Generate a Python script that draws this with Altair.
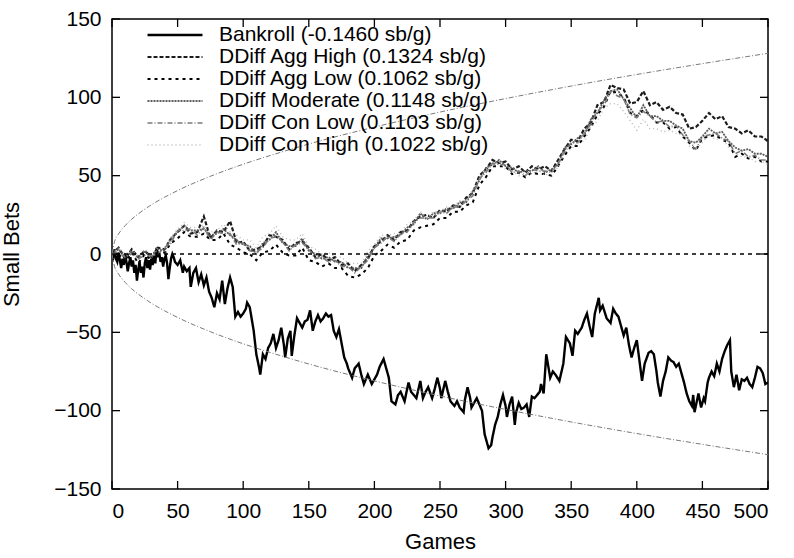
import altair as alt
import pandas as pd

# ---- Bankroll trace (games, small bets) ----
BANKROLL_GAMES = [
    0, 1, 2, 3, 4, 5, 6, 7, 8, 9, 10, 11, 12, 13, 14, 15, 16, 17, 18, 19,
    20, 21, 22, 23, 24, 25, 26, 27, 28, 29, 30, 31, 32, 33, 34, 35, 36, 37, 38, 39,
    40, 41, 42, 43, 44, 45, 46, 47, 48, 50, 52, 54, 55, 57, 59, 60, 62, 64, 66, 68,
    70, 72, 74, 76, 78, 80, 82, 84, 86, 88, 90, 92, 94, 96, 98, 100, 102, 103, 105, 107,
    108, 110, 112, 113, 115, 117, 119, 121, 123, 125, 127, 129, 131, 132, 134, 136, 137, 139, 141, 143,
    145, 147, 149, 151, 153, 155, 157, 159, 161, 163, 165, 167, 169, 171, 173, 175, 177, 179, 180, 183,
    185, 188, 190, 192, 195, 198, 200, 202, 204, 207, 209, 211, 213, 216, 218, 220, 223, 226, 228, 230,
    232, 235, 237, 239, 241, 244, 246, 248, 250, 251, 254, 256, 258, 261, 263, 265, 268, 269, 271, 273,
    274, 276, 278, 280, 282, 284, 286, 287, 289, 290, 292, 294, 296, 298, 300, 301, 303, 305, 307, 308,
    310, 312, 314, 316, 318, 320, 322, 324, 326, 327, 329, 331, 334, 336, 338, 341, 344, 346, 349, 351,
    353, 355, 358, 360, 362, 364, 366, 368, 371, 372, 374, 377, 380, 382, 384, 386, 388, 390, 392, 394,
    396, 398, 400, 402, 404, 406, 409, 411, 413, 415, 416, 418, 420, 422, 424, 426, 428, 430, 432, 434,
    436, 438, 440, 442, 443, 444, 446, 447, 449, 451, 452, 454, 455, 457, 459, 461, 463, 465, 467, 469,
    471, 472, 474, 476, 478, 480, 482, 484, 486, 488, 490, 492, 494, 496, 498, 500,
]
BANKROLL_SB = [
    0, -2, 3, -3, -5, 1, -4, -9, -3, -7, 0, -5, -11, -6, -2, -8, -4, -12, -7, -17,
    -10, -5, -12, -8, -15, -6, -2, -9, -4, -10, -3, -7, -1, -6, 4, -2, 1, -5, -2, -8,
    -3, -1, -6, -16, -9, -3, 0, -2, -5, -7, -4, -12, -8, -11, -9, -21, -12, -9, -18, -13,
    -20, -15, -24, -28, -34, -25, -29, -17, -32, -22, -15, -21, -40, -37, -40, -38, -35, -31, -34, -44,
    -49, -64, -72, -77, -64, -67, -60, -57, -51, -60, -55, -47, -58, -66, -54, -49, -65, -52, -41, -44,
    -47, -43, -42, -36, -49, -43, -39, -43, -41, -38, -40, -39, -49, -53, -48, -57, -66, -70, -73, -79,
    -73, -70, -77, -83, -77, -83, -80, -77, -72, -67, -73, -79, -94, -96, -90, -88, -94, -82, -88, -90,
    -92, -81, -92, -88, -85, -92, -86, -79, -86, -92, -81, -88, -94, -97, -94, -98, -101, -93, -85, -92,
    -98, -95, -92, -96, -100, -115, -121, -124, -122, -117, -109, -104, -96, -90, -97, -104, -96, -91, -109, -101,
    -95, -99, -98, -96, -104, -91, -92, -90, -88, -83, -89, -64, -79, -75, -77, -81, -70, -53, -57, -65,
    -49, -51, -47, -42, -38, -46, -53, -38, -28, -36, -33, -41, -44, -35, -38, -40, -46, -52, -47, -58,
    -66, -60, -55, -68, -81, -70, -63, -62, -64, -75, -82, -91, -81, -75, -66, -68, -69, -72, -70, -76,
    -82, -89, -94, -97, -90, -101, -93, -89, -98, -92, -94, -82, -79, -75, -78, -70, -75, -67, -62, -58,
    -55, -75, -85, -77, -87, -80, -81, -79, -83, -85, -79, -72, -73, -76, -83, -82,
]

# ---- DDiff estimators, sampled every 5 games ----
DDIFF_GAMES = list(range(0, 501, 5))
AGG_HIGH = [
    0, 4, -3, 3, -2, 2, -2, 4, 3, 10, 14, 18, 13, 14, 24, 10, 15, 14, 21, 7,
    8, 2, 3, 5, 12, 11, 9, 3, 7, 8, 4, -2, 0, -4, -2, -7, -6, -11, -7, -3,
    5, 8, 12, 9, 14, 15, 21, 24, 25, 23, 28, 27, 31, 30, 36, 39, 50, 54, 60, 58,
    59, 54, 56, 52, 56, 54, 56, 53, 60, 67, 73, 72, 80, 84, 95, 97, 108, 106, 105, 96,
    97, 104, 95, 97, 92, 94, 90, 89, 80, 81, 85, 90, 86, 88, 81, 80, 77, 79, 75, 75,
    72,
]
AGG_LOW = [
    0, 0, -5, 1, -6, 0, -4, 1, 1, 7, 10, 14, 11, 11, 13, 9, 9, 13, 6, 4,
    1, 0, -4, 1, 2, 6, 1, -1, -1, 4, -4, -5, -8, -6, -9, -9, -14, -15, -13, -9,
    -1, 2, 6, 4, 8, 9, 15, 17, 18, 19, 23, 23, 27, 27, 31, 33, 44, 49, 56, 56,
    56, 51, 52, 49, 52, 51, 51, 50, 56, 63, 69, 69, 75, 81, 89, 94, 104, 103, 100, 90,
    88, 92, 89, 84, 84, 80, 81, 75, 71, 66, 74, 75, 76, 73, 71, 62, 64, 61, 62, 59,
    59,
]
MODERATE = [
    0, 3, -1, 1, -2, 2, -2, 3, 2, 10, 14, 18, 15, 15, 16, 12, 13, 16, 12, 9,
    6, 5, 0, 7, 9, 14, 7, 5, 5, 10, 2, 0, -3, -2, -5, -5, -9, -9, -9, -1,
    4, 10, 10, 11, 12, 17, 19, 26, 22, 26, 26, 29, 29, 33, 33, 40, 47, 55, 57, 60,
    56, 55, 52, 53, 53, 56, 52, 54, 57, 68, 70, 74, 76, 86, 90, 98, 104, 105, 99, 93,
    87, 95, 88, 88, 85, 85, 82, 80, 72, 71, 75, 80, 77, 78, 72, 68, 66, 67, 64, 64,
    62,
]
CON_LOW = [
    0, 1, -2, 0, -3, -1, -1, 0, 4, 7, 15, 15, 16, 12, 17, 9, 14, 13, 13, 6,
    7, 2, 1, 4, 10, 11, 8, 2, 6, 7, 3, -3, -2, -5, -4, -8, -8, -12, -8, -4,
    4, 7, 11, 8, 13, 14, 20, 23, 23, 23, 27, 26, 30, 30, 34, 37, 48, 52, 58, 57,
    57, 52, 53, 50, 54, 53, 53, 52, 58, 65, 71, 71, 77, 83, 91, 95, 104, 101, 99, 89,
    87, 91, 88, 84, 85, 81, 82, 76, 72, 67, 75, 76, 77, 74, 72, 64, 66, 62, 63, 60,
    60,
]
CON_HIGH = [
    0, 4, 0, 2, -1, 3, -1, 4, 4, 11, 16, 20, 17, 17, 18, 14, 15, 19, 14, 12,
    9, 9, 4, 11, 13, 18, 11, 9, 9, 13, 5, 3, 0, 1, -2, -2, -6, -6, -6, 2,
    6, 12, 12, 13, 14, 19, 21, 27, 23, 27, 27, 30, 30, 34, 34, 41, 47, 54, 56, 59,
    54, 53, 50, 51, 51, 54, 50, 53, 55, 65, 67, 71, 72, 81, 85, 93, 96, 96, 91, 85,
    79, 86, 80, 80, 78, 79, 77, 76, 69, 67, 71, 76, 73, 74, 68, 64, 62, 62, 59, 59,
    57,
]

# ---- Significance envelope (upper branch; lower is its mirror) ----
BOUND_GAMES = [0, 2, 5, 10, 15, 20, 30, 40, 50, 75, 100, 125, 150, 200, 250, 300, 350, 400, 450, 500]
BOUND_UPPER = [0, 8.1, 12.8, 18.1, 22.2, 25.6, 31.4, 36.2, 40.5, 49.6, 57.3, 64.0, 70.2, 81.0,
               90.6, 99.2, 107.2, 114.6, 121.5, 128.1]

X_TICKS = [0, 50, 100, 150, 200, 250, 300, 350, 400, 450, 500]
Y_TICKS = [-150, -100, -50, 0, 50, 100, 150]

SERIES = [
    "Bankroll (-0.1460 sb/g)",
    "DDiff Agg High (0.1324 sb/g)",
    "DDiff Agg Low (0.1062 sb/g)",
    "DDiff Moderate (0.1148 sb/g)",
    "DDiff Con Low (0.1103 sb/g)",
    "DDiff Con High (0.1022 sb/g)",
]
COLORS = ["#000000", "#1c1c1c", "#000000", "#5c5c5c", "#7a7a7a", "#b8b8b8"]
DASHES = [[1, 0], [4, 2], [3, 4], [2, 1], [5, 2, 1, 2], [1, 3]]
WIDTHS = [2.4, 1.4, 1.6, 1.4, 1.0, 1.3]

W, H = 656, 470
FONT = "Liberation Sans"

frames = [pd.DataFrame({"game": BANKROLL_GAMES, "sb": BANKROLL_SB, "series": SERIES[0]})]
for name, vals in zip(SERIES[1:], [AGG_HIGH, AGG_LOW, MODERATE, CON_LOW, CON_HIGH]):
    frames.append(pd.DataFrame({"game": DDIFF_GAMES, "sb": vals, "series": name}))
df = pd.concat(frames, ignore_index=True)

bounds = pd.concat([
    pd.DataFrame({"game": BOUND_GAMES, "sb": BOUND_UPPER, "side": "upper"}),
    pd.DataFrame({"game": BOUND_GAMES, "sb": [-v for v in BOUND_UPPER], "side": "lower"}),
], ignore_index=True)

x_scale = alt.Scale(domain=[0, 500], nice=False, zero=False)
y_scale = alt.Scale(domain=[-150, 150], nice=False, zero=False)


def series_legend():
    return alt.Legend(
        title=None, orient="none", legendX=34, legendY=5,
        symbolType="stroke", symbolSize=3025, clipHeight=22, rowPadding=0,
        labelFont=FONT, labelFontSize=21, labelColor="#000000", labelLimit=500,
        labelOffset=15, symbolOffset=0,
    )


lines = alt.Chart(df).mark_line(clip=True).encode(
    x=alt.X("game:Q", scale=x_scale,
            axis=alt.Axis(title="Games", values=X_TICKS, format="d")),
    y=alt.Y("sb:Q", scale=y_scale,
            axis=alt.Axis(title="Small Bets", values=Y_TICKS, format="d")),
    color=alt.Color("series:O", sort=SERIES,
                    scale=alt.Scale(domain=SERIES, range=COLORS), legend=series_legend()),
    strokeDash=alt.StrokeDash("series:O", sort=SERIES,
                              scale=alt.Scale(domain=SERIES, range=DASHES), legend=series_legend()),
    strokeWidth=alt.StrokeWidth("series:O", sort=SERIES,
                                scale=alt.Scale(domain=SERIES, range=WIDTHS), legend=series_legend()),
)

envelope = alt.Chart(bounds).mark_line(
    color="#7a7a7a", strokeWidth=1.0, strokeDash=[5, 2, 1, 2], interpolate="monotone", clip=True
).encode(x=alt.X("game:Q", scale=x_scale), y=alt.Y("sb:Q", scale=y_scale), detail="side:N")

zero_line = alt.Chart(pd.DataFrame({"z": [0]})).mark_rule(
    color="#000000", strokeWidth=1.5, strokeDash=[4, 4]
).encode(y=alt.Y("z:Q", scale=y_scale))

xt = pd.DataFrame({"tx": X_TICKS})
yt = pd.DataFrame({"ty": Y_TICKS})
tick_style = dict(color="#000000", strokeWidth=1.3)
ticks_bottom = alt.Chart(xt).mark_rule(**tick_style).encode(
    x=alt.X("tx:Q", scale=x_scale), y=alt.value(H), y2=alt.value(H - 8))
ticks_top = alt.Chart(xt).mark_rule(**tick_style).encode(
    x=alt.X("tx:Q", scale=x_scale), y=alt.value(0), y2=alt.value(8))
ticks_left = alt.Chart(yt).mark_rule(**tick_style).encode(
    y=alt.Y("ty:Q", scale=y_scale), x=alt.value(0), x2=alt.value(8))
ticks_right = alt.Chart(yt).mark_rule(**tick_style).encode(
    y=alt.Y("ty:Q", scale=y_scale), x=alt.value(W), x2=alt.value(W - 8))

chart = alt.layer(
    lines, envelope, zero_line, ticks_bottom, ticks_top, ticks_left, ticks_right
).properties(
    width=W, height=H,
    padding={"left": 112, "top": 19, "right": 26, "bottom": 69},
    autosize=alt.AutoSizeParams(type="none"),
    background="#ffffff",
).configure_view(
    stroke="#000000", strokeWidth=1.5
).configure_axis(
    labelFont=FONT, labelFontSize=21, labelColor="#000000",
    titleFont=FONT, titleFontSize=22, titleFontWeight="normal", titleColor="#000000",
    ticks=False, domain=False, grid=False, labelPadding=11,
).configure_axisX(
    titlePadding=10,
).configure_axisY(
    titlePadding=30,
)

chart.save("out.html", embed_options={"renderer": "svg", "actions": False})
